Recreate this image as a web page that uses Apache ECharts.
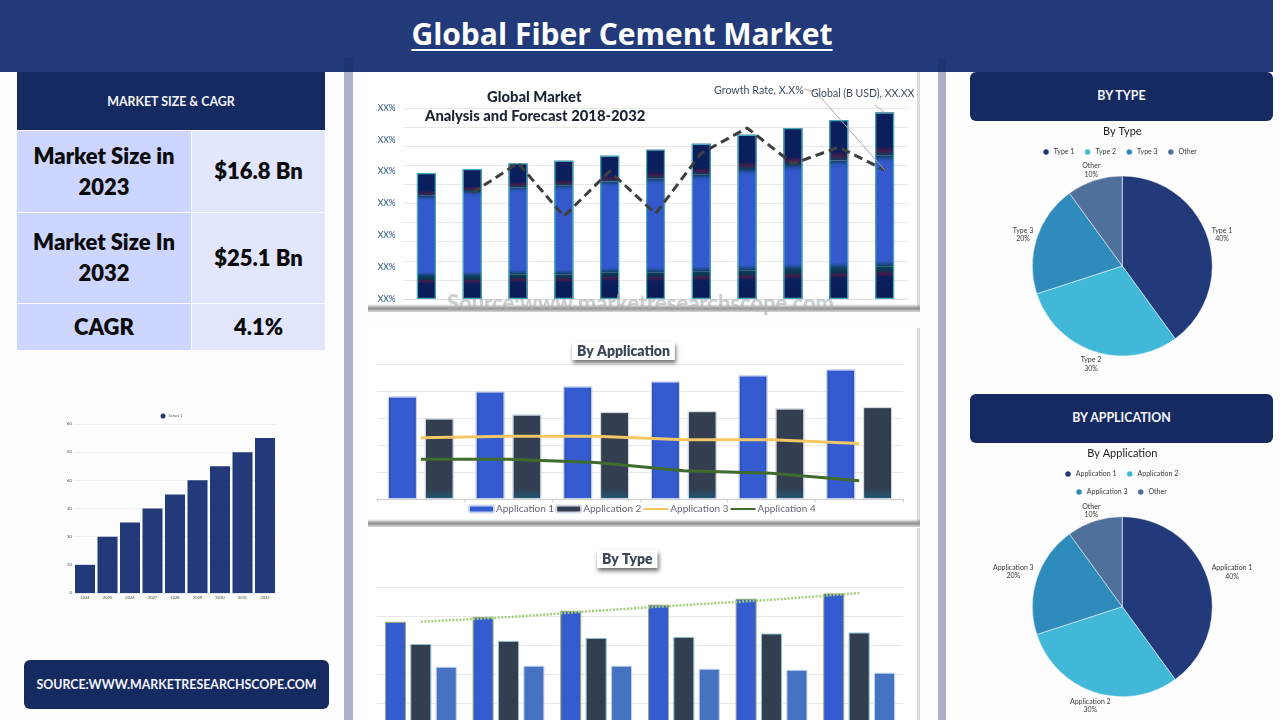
<!DOCTYPE html>
<html>
<head>
<meta charset="utf-8">
<script src="https://cdn.jsdelivr.net/npm/echarts@6/dist/echarts.min.js"></script>
<style>
html,body{margin:0;padding:0;width:1280px;height:720px;overflow:hidden;background:#fdfdfd;font-family:Lato,"Open Sans",sans-serif}
.abs{position:absolute;box-sizing:border-box}
.c{display:flex;align-items:center;justify-content:center;text-align:center}
.panel{background:#fff;border-right:3px solid #dcdcdc}
.shade{position:absolute;left:0;right:-3px;height:8px;bottom:0;background:linear-gradient(#ffffff00,#8f8f8f 55%,#d8d8d8)}
.cell{font-weight:800;color:#0b0b0b;font-size:22px;line-height:31px;padding-bottom:2px}
.btn{background:#162a62;color:#f4f5fa;font-weight:700;border-radius:6px}
#a{position:absolute;left:0;top:0;width:1280px;height:760px}
#b{position:absolute;left:0;top:0;width:1280px;height:720px}
</style>
</head>
<body>
<div class="abs" style="left:0;top:0;width:1273px;height:72px;background:#223a7a"></div>
<div class="abs c" style="left:412px;top:10px;width:420px;height:46px;color:#fff;font:700 30px 'Open Sans',sans-serif;text-decoration:underline;text-decoration-thickness:2px;text-underline-offset:4px;white-space:nowrap">Global Fiber Cement Market</div>
<div class="abs" style="left:344px;top:72px;width:9px;height:648px;background:#a9b0c8"></div>
<div class="abs" style="left:938px;top:72px;width:8px;height:648px;background:#a9b0c8"></div>
<div class="abs" style="left:344px;top:58px;width:9px;height:14px;background:#1e3370"></div>
<div class="abs" style="left:938px;top:58px;width:8px;height:14px;background:#1e3370"></div>

<div class="abs panel" style="left:368px;top:72px;width:552px;height:240px"><div class="shade"></div></div>
<div class="abs panel" style="left:368px;top:328px;width:552px;height:199px"><div class="shade"></div></div>
<div class="abs panel" style="left:368px;top:528px;width:552px;height:192px"></div>

<div class="abs c" style="left:17px;top:72px;width:308px;height:58px;background:#162a62;color:#f4f5fa;font-weight:700;font-size:12.4px">MARKET SIZE &amp; CAGR</div>
<div class="abs c cell" style="left:17px;top:131px;width:174px;height:81px;background:#ccd6ff">Market Size in<br>2023</div>
<div class="abs c cell" style="left:192px;top:131px;width:133px;height:81px;background:#e2e6ff">$16.8 Bn</div>
<div class="abs c cell" style="left:17px;top:213px;width:174px;height:90px;background:#ccd6ff">Market Size In<br>2032</div>
<div class="abs c cell" style="left:192px;top:213px;width:133px;height:90px;background:#e2e6ff">$25.1 Bn</div>
<div class="abs c cell" style="left:17px;top:304px;width:174px;height:46px;background:#ccd6ff">CAGR</div>
<div class="abs c cell" style="left:192px;top:304px;width:133px;height:46px;background:#e2e6ff">4.1%</div>
<div class="abs c btn" style="left:24px;top:660px;width:305px;height:49px;font-size:12.4px">SOURCE:WWW.MARKETRESEARCHSCOPE.COM</div>
<div class="abs c btn" style="left:970px;top:72px;width:303px;height:49px;font-size:12.4px;padding-bottom:2px">BY TYPE</div>
<div class="abs c btn" style="left:970px;top:394px;width:303px;height:49px;font-size:12.4px;padding-bottom:2px">BY APPLICATION</div>

<div id="a"></div>
<div id="b"></div>
<script>
// Left chart
const sizeYears = ['2024','2025','2026','2027','2028','2029','2030','2031','2032'];
const sizeValues = [10,20,25,30,35,40,45,50,55];
// Global market chart
const globalYears = ['2018','2019','2020','2021','2022','2023','2024','2025','2026','2027','2028'];
const globalBase = [12,12,13,13,14,14,14.5,15,15.7,16.2,17.1];
const globalMid = [42,44.5,45.5,46.5,47.5,49,50.5,53,54.5,56.3,57.9];
const globalTop = [12,11.5,12.5,12.9,13.5,15.2,16.3,18,19.3,21.2,22.6];
const growthRate = [null,55.5,71.2,43.3,66.9,44.7,76.4,89.5,70.8,79.5,67.6];
const xxTicks = ['XX%','XX%','XX%','XX%','XX%','XX%','XX%'];
// By application chart
const appCats = ['A','B','C','D','E','F'];
const app1 = [76,79.7,83.4,87.1,91.6,96];
const app2 = [59.7,62.6,64.4,65.1,67.1,68.1];
const app3 = [45.3,46.5,46.5,43.8,43.8,41.1];
const app4 = [29.5,29.5,27,21,19,13.6];
// By type chart
const typeCats = ['A','B','C','D','E','F'];
const type1 = [76,79.4,83.6,87.8,91.9,95.6];
const type2 = [60.7,62.8,64.9,65.6,67.9,68.6];
const type3 = [45,45.7,45.7,43.6,42.9,40.9];
const typeTrend = [76,79.2,83.6,87.5,91.2,95.8];
// Pies
const pieTypeNames = ['Type 1','Type 2','Type 3','Other'];
const pieAppNames = ['Application 1','Application 2','Application 3','Other'];
const pieValues = [40,30,20,10];
const pieColors = ['#223a7a','#41b8d8','#2e8bbb','#50709c'];

const FONT = 'Lato, "Open Sans", sans-serif';
const grad = (x2,y2,stops)=>new echarts.graphic.LinearGradient(0,0,x2,y2,stops.map(s=>({offset:s[0],color:s[1]})));
const blueBar = grad(1,0,[[0,'#27469c'],[.12,'#345bd0'],[.88,'#345bd0'],[1,'#27469c']]);
const slateBar = grad(0,1,[[0,'#333f50'],[.88,'#333f50'],[1,'#1f5878']]);
const hiddenAxis = (g,data)=>({type:'category',gridIndex:g,data,axisLabel:{show:false},axisTick:{show:false},axisLine:{show:false}});
const plotY = g=>({type:'value',gridIndex:g,min:0,max:100,interval:20,axisLabel:{show:false},axisLine:{show:false},axisTick:{show:false},splitLine:{lineStyle:{color:'#e8e8e8',width:1}}});
const boxTitle = (text,left,top,size)=>({text,left,top,padding:[2,5],backgroundColor:'#fff',shadowColor:'rgba(0,0,0,.55)',shadowBlur:4,shadowOffsetY:3,shadowOffsetX:1,textStyle:{fontFamily:FONT,fontWeight:800,fontSize:size,color:'#3c4656'}});
const noDot = {color:'rgba(0,0,0,0)',borderColor:'rgba(0,0,0,0)',borderWidth:0};

const chartA = echarts.init(document.getElementById('a'),null,{renderer:'canvas'});
const optionA = {
  animation:false,
  backgroundColor:'transparent',
  title:[
    boxTitle('By Application',572,342,14),
    boxTitle('By Type',597,550,14)
  ],
  legend:[
    {data:['Series 1'],left:160.5,top:413.5,icon:'circle',itemWidth:5,itemHeight:5,itemGap:2,padding:0,textStyle:{fontFamily:FONT,fontSize:4,color:'#555',padding:[0,0,0,-2]}},
    {data:['Application 1','Application 2',{name:'Application 3',itemStyle:noDot},{name:'Application 4',itemStyle:noDot}],left:468,top:504,itemWidth:25,itemHeight:7,itemGap:1,padding:0,textStyle:{fontFamily:FONT,fontSize:10,color:'#667',padding:[0,0,0,-3]}}
  ],
  grid:[
    {left:73.75,top:424,width:202.5,height:169,containLabel:false},
    {left:403.5,top:108,width:504,height:191},
    {left:377,top:364,width:526,height:135},
    {left:377,top:587,width:526,height:145}
  ],
  xAxis:[
    {type:'category',gridIndex:0,data:sizeYears,axisTick:{show:false},axisLine:{lineStyle:{color:'#e5e5e5'}},axisLabel:{fontSize:4,fontFamily:FONT,color:'#444',margin:3,interval:0}},
    {...hiddenAxis(1,globalYears),axisLine:{show:true,lineStyle:{color:'#ddd'}}},
    {type:'category',gridIndex:2,data:appCats,axisLabel:{show:false},axisTick:{show:true,length:3,lineStyle:{color:'#ccc'}},axisLine:{show:true,lineStyle:{color:'#ccc'}}},
    hiddenAxis(3,typeCats)
  ],
  yAxis:[
    {type:'value',gridIndex:0,min:0,max:60,interval:10,axisLabel:{fontSize:4,fontFamily:FONT,color:'#444',margin:2},axisLine:{show:false},axisTick:{show:false},splitLine:{lineStyle:{color:'#efefef'}}},
    {...plotY(1),interval:10},
    {type:'value',gridIndex:1,min:0,max:60,interval:10,position:'left',axisLine:{show:false},axisTick:{show:false},splitLine:{show:false},
      axisLabel:{margin:8,fontFamily:FONT,fontSize:8.5,color:'#1f4e79',formatter:(v)=>xxTicks[v/10]}},
    plotY(2),
    plotY(3)
  ],
  series:[
    {name:'Series 1',type:'bar',xAxisIndex:0,yAxisIndex:0,data:sizeValues,barWidth:20,itemStyle:{color:'#223a7a'}},

    {type:'bar',xAxisIndex:1,yAxisIndex:1,stack:'g',barWidth:19,data:globalBase,itemStyle:{color:grad(0,1,[[0,'#0c3f5c'],[.14,'#0d3350'],[.22,'#471a4c'],[.34,'#0a1f5c'],[1,'#0a1c55']])}},
    {type:'bar',xAxisIndex:1,yAxisIndex:1,stack:'g',barWidth:19,data:globalMid,itemStyle:{color:grad(0,1,[[0,'#0f4068'],[.04,'#2f55bd'],[.07,'#3459cc'],[.95,'#3459cc'],[.98,'#1f4a8f'],[1,'#0c3f5c']])}},
    {type:'bar',xAxisIndex:1,yAxisIndex:1,stack:'g',barWidth:19,data:globalTop,itemStyle:{color:grad(0,1,[[0,'#0b1f5c'],[.78,'#0b1f5c'],[.88,'#441a4c'],[1,'#0c3f5c']])}},
    {type:'bar',xAxisIndex:1,yAxisIndex:1,stack:'gBorder',barWidth:19,barGap:'-100%',data:globalBase.map((v,i)=>v+globalMid[i]+globalTop[i]),itemStyle:{color:'transparent',borderColor:'#46a9b8',borderWidth:1.2}},
    {type:'line',xAxisIndex:1,yAxisIndex:1,data:growthRate,symbol:'none',connectNulls:false,lineStyle:{color:'#3f3f3f',width:3,type:[9,5]},z:5},

    {name:'Application 1',type:'bar',xAxisIndex:2,yAxisIndex:3,data:app1,barWidth:29,barGap:'27%',itemStyle:{color:blueBar,borderColor:'#c9d4ef',borderWidth:1}},
    {name:'Application 2',type:'bar',xAxisIndex:2,yAxisIndex:3,data:app2,barWidth:29,itemStyle:{color:slateBar,borderColor:'#d5dbe6',borderWidth:1}},
    {name:'Application 3',type:'line',xAxisIndex:2,yAxisIndex:3,data:app3,symbol:'none',lineStyle:{color:'#f3c764',width:3},z:5},
    {name:'Application 4',type:'line',xAxisIndex:2,yAxisIndex:3,data:app4,symbol:'none',lineStyle:{color:'#3f6b2c',width:3},z:5},

    {type:'bar',xAxisIndex:3,yAxisIndex:4,data:type1,barWidth:21,barGap:'21%',itemStyle:{color:'#345bd0',borderColor:'#9fae6d',borderWidth:1}},
    {type:'bar',xAxisIndex:3,yAxisIndex:4,data:type2,barWidth:21,itemStyle:{color:'#333f50',borderColor:'#8fc0d0',borderWidth:1}},
    {type:'bar',xAxisIndex:3,yAxisIndex:4,data:type3,barWidth:21,itemStyle:{color:'#4672c2',borderColor:'#c3d0ea',borderWidth:1}},
    {type:'line',xAxisIndex:3,yAxisIndex:4,data:typeTrend,symbol:'none',lineStyle:{color:'#a5cd7a',width:2.5,type:[2,1.5]},z:5}
  ]
};
chartA.setOption(optionA);

// annotations tied to the last points of the main chart
const lastIdx = globalYears.length-1;
const total = globalBase[lastIdx]+globalMid[lastIdx]+globalTop[lastIdx];
const pRate = chartA.convertToPixel({xAxisIndex:1,yAxisIndex:1},[lastIdx,growthRate[lastIdx]]);
const pTotal = chartA.convertToPixel({xAxisIndex:1,yAxisIndex:1},[lastIdx,total]);
const ann = (text,x,y,opt={})=>({type:'text',x,y,z:20,style:{text,fontFamily:FONT,fontSize:11,fill:'#3e4d60',...opt}});
chartA.setOption({graphic:[
  ann('Global Market',487,89.5,{fontWeight:900,fontSize:14.8,fill:'#1a2433'}),
  ann('Analysis and Forecast 2018-2032',425,108.5,{fontWeight:900,fontSize:14.8,fill:'#1a2433'}),
  ann('Growth Rate, X.X%',714,85,{fontSize:10.7}),
  ann('Global (B USD), XX.XX',811,88.5,{fontSize:10.5}),
  {type:'polyline',z:19,shape:{points:[[804,89],[816,92],pRate]},style:{stroke:'#aaa',lineWidth:1,fill:'none'}},
  {type:'line',z:19,shape:{x1:875,y1:105,x2:pTotal[0],y2:pTotal[1]},style:{stroke:'#aaa',lineWidth:1}},
  ann('Source:www.marketresearchscope.com',447,293,{fontWeight:900,fontSize:21.9,fill:'rgba(170,175,180,.6)'})
]});

// label centres relative to each pie's centre: [dx, dy] per slice
const typeLabelOffsets = [[99.7,-31.5],[-31.3,98],[-99.3,-31.5],[-31,-96]];
const appLabelOffsets = [[109.7,-34.7],[-32,99],[-109,-35],[-31,-96]];
const pieX = 1122.3;
const piePart = (names,cy,offsets)=>({
  type:'pie',radius:90,center:[pieX,cy],startAngle:90,clockwise:true,
  data:names.map((n,i)=>({name:n,value:pieValues[i],itemStyle:{color:pieColors[i]}})),
  itemStyle:{borderColor:'#fff',borderWidth:.5},
  label:{position:'outside',formatter:'{b}\n{d}%',fontFamily:FONT,fontSize:7,lineHeight:8.5,color:'#3a3a3a'},
  labelLine:{show:false,length:3,length2:0},
  labelLayout:p=>({x:pieX+offsets[p.dataIndex][0],y:cy+offsets[p.dataIndex][1],align:'center',verticalAlign:'middle'}),
  emphasis:{disabled:true}
});
const lg = (data,left,top)=>({data,left,top,icon:'circle',itemWidth:7.5,itemHeight:7.5,itemGap:8.5,padding:0,textStyle:{fontFamily:FONT,fontSize:7,color:'#3a3a3a',padding:[0,0,0,-1]}});
const pieTitle = (text,y)=>({text,left:pieX,top:y,textAlign:'center',padding:0,textStyle:{fontFamily:FONT,fontWeight:400,fontSize:11,color:'#222'}});
const chartB = echarts.init(document.getElementById('b'),null,{renderer:'canvas'});
chartB.setOption({
  animation:false,backgroundColor:'transparent',
  title:[pieTitle('By Type',126),pieTitle('By Application',448)],
  legend:[
    lg(pieTypeNames,1041.3,147.2),
    lg(pieAppNames.slice(0,2),1063.3,469.2),
    lg(pieAppNames.slice(2),1074.3,487.2)
  ],
  series:[piePart(pieTypeNames,266,typeLabelOffsets),piePart(pieAppNames,606.7,appLabelOffsets)]
});
</script>
</body>
</html>
